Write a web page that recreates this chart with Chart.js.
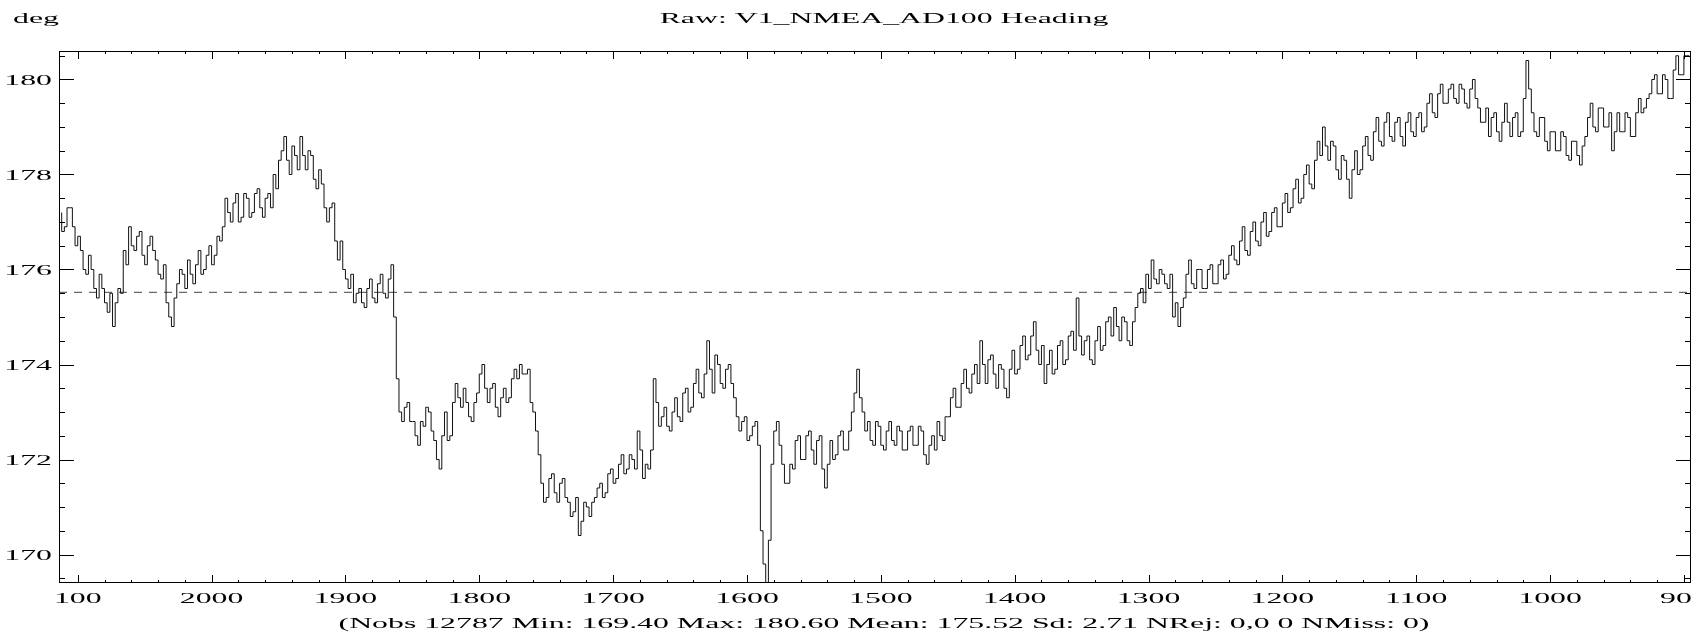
<!DOCTYPE html>
<html>
<head>
<meta charset="utf-8">
<script src="https://cdn.jsdelivr.net/npm/chart.js@4.4.0/dist/chart.umd.min.js"></script>
<style>
  html, body { margin: 0; padding: 0; background: #fff; }
  #wrap { width: 1693px; height: 635px; }
</style>
</head>
<body>
<div id="wrap"><canvas id="headingChart" width="1693" height="635"></canvas></div>
<script>
// Raw heading samples (x runs from 2112 down to 896)
const xValues = [
  2112, 2110, 2108, 2106, 2104, 2102, 2100, 2098, 2096, 2094, 2092, 2090, 2088, 2086, 2084, 2082, 2080, 2078, 2076, 2074,
  2072, 2070, 2068, 2066, 2064, 2062, 2060, 2058, 2056, 2054, 2052, 2050, 2048, 2046, 2044, 2042, 2040, 2038, 2036, 2034,
  2032, 2030, 2028, 2026, 2024, 2022, 2020, 2018, 2016, 2014, 2012, 2010, 2008, 2006, 2004, 2002, 2000, 1998, 1996, 1994,
  1992, 1990, 1988, 1986, 1984, 1982, 1980, 1978, 1976, 1974, 1972, 1970, 1968, 1966, 1964, 1962, 1960, 1958, 1956, 1954,
  1952, 1950, 1948, 1946, 1944, 1942, 1940, 1938, 1936, 1934, 1932, 1930, 1928, 1926, 1924, 1922, 1920, 1918, 1916, 1914,
  1912, 1910, 1908, 1906, 1904, 1902, 1900, 1898, 1896, 1894, 1892, 1890, 1888, 1886, 1884, 1882, 1880, 1878, 1876, 1874,
  1872, 1870, 1868, 1866, 1864, 1862, 1860, 1858, 1856, 1854, 1852, 1850, 1848, 1846, 1844, 1842, 1840, 1838, 1836, 1834,
  1832, 1830, 1828, 1826, 1824, 1822, 1820, 1818, 1816, 1814, 1812, 1810, 1808, 1806, 1804, 1802, 1800, 1798, 1796, 1794,
  1792, 1790, 1788, 1786, 1784, 1782, 1780, 1778, 1776, 1774, 1772, 1770, 1768, 1766, 1764, 1762, 1760, 1758, 1756, 1754,
  1752, 1750, 1748, 1746, 1744, 1742, 1740, 1738, 1736, 1734, 1732, 1730, 1728, 1726, 1724, 1722, 1720, 1718, 1716, 1714,
  1712, 1710, 1708, 1706, 1704, 1702, 1700, 1698, 1696, 1694, 1692, 1690, 1688, 1686, 1684, 1682, 1680, 1678, 1676, 1674,
  1672, 1670, 1668, 1666, 1664, 1662, 1660, 1658, 1656, 1654, 1652, 1650, 1648, 1646, 1644, 1642, 1640, 1638, 1636, 1634,
  1632, 1630, 1628, 1626, 1624, 1622, 1620, 1618, 1616, 1614, 1612, 1610, 1608, 1606, 1604, 1602, 1600, 1598, 1596, 1594,
  1592, 1590, 1588, 1586, 1584, 1582, 1580, 1578, 1576, 1574, 1572, 1570, 1568, 1566, 1564, 1562, 1560, 1558, 1556, 1554,
  1552, 1550, 1548, 1546, 1544, 1542, 1540, 1538, 1536, 1534, 1532, 1530, 1528, 1526, 1524, 1522, 1520, 1518, 1516, 1514,
  1512, 1510, 1508, 1506, 1504, 1502, 1500, 1498, 1496, 1494, 1492, 1490, 1488, 1486, 1484, 1482, 1480, 1478, 1476, 1474,
  1472, 1470, 1468, 1466, 1464, 1462, 1460, 1458, 1456, 1454, 1452, 1450, 1448, 1446, 1444, 1442, 1440, 1438, 1436, 1434,
  1432, 1430, 1428, 1426, 1424, 1422, 1420, 1418, 1416, 1414, 1412, 1410, 1408, 1406, 1404, 1402, 1400, 1398, 1396, 1394,
  1392, 1390, 1388, 1386, 1384, 1382, 1380, 1378, 1376, 1374, 1372, 1370, 1368, 1366, 1364, 1362, 1360, 1358, 1356, 1354,
  1352, 1350, 1348, 1346, 1344, 1342, 1340, 1338, 1336, 1334, 1332, 1330, 1328, 1326, 1324, 1322, 1320, 1318, 1316, 1314,
  1312, 1310, 1308, 1306, 1304, 1302, 1300, 1298, 1296, 1294, 1292, 1290, 1288, 1286, 1284, 1282, 1280, 1278, 1276, 1274,
  1272, 1270, 1268, 1266, 1264, 1262, 1260, 1258, 1256, 1254, 1252, 1250, 1248, 1246, 1244, 1242, 1240, 1238, 1236, 1234,
  1232, 1230, 1228, 1226, 1224, 1222, 1220, 1218, 1216, 1214, 1212, 1210, 1208, 1206, 1204, 1202, 1200, 1198, 1196, 1194,
  1192, 1190, 1188, 1186, 1184, 1182, 1180, 1178, 1176, 1174, 1172, 1170, 1168, 1166, 1164, 1162, 1160, 1158, 1156, 1154,
  1152, 1150, 1148, 1146, 1144, 1142, 1140, 1138, 1136, 1134, 1132, 1130, 1128, 1126, 1124, 1122, 1120, 1118, 1116, 1114,
  1112, 1110, 1108, 1106, 1104, 1102, 1100, 1098, 1096, 1094, 1092, 1090, 1088, 1086, 1084, 1082, 1080, 1078, 1076, 1074,
  1072, 1070, 1068, 1066, 1064, 1062, 1060, 1058, 1056, 1054, 1052, 1050, 1048, 1046, 1044, 1042, 1040, 1038, 1036, 1034,
  1032, 1030, 1028, 1026, 1024, 1022, 1020, 1018, 1016, 1014, 1012, 1010, 1008, 1006, 1004, 1002, 1000, 998, 996, 994,
  992, 990, 988, 986, 984, 982, 980, 978, 976, 974, 972, 970, 968, 966, 964, 962, 960, 958, 956, 954,
  952, 950, 948, 946, 944, 942, 940, 938, 936, 934, 932, 930, 928, 926, 924, 922, 920, 918, 916, 914,
  912, 910, 908, 906, 904, 902, 900, 898, 896
];
const headingValues = [
  177.2, 176.8, 176.9, 177.3, 177.3, 176.9, 176.5, 176.7, 176.4, 176.0, 175.9, 176.3, 176.0, 175.6, 175.4, 175.9, 175.6, 175.3, 175.1, 175.5,
  174.8, 175.3, 175.6, 175.5, 176.4, 176.1, 176.9, 176.5, 176.4, 176.7, 176.8, 176.3, 176.1, 176.5, 176.7, 176.4, 176.2, 175.9, 175.8, 176.1,
  175.3, 175.0, 174.8, 175.4, 175.7, 176.0, 175.9, 175.6, 176.2, 175.9, 175.7, 176.1, 176.4, 175.9, 176.0, 176.3, 176.5, 176.1, 176.3, 176.7,
  176.6, 176.9, 177.5, 177.2, 177.0, 177.4, 177.6, 177.0, 177.1, 177.6, 177.5, 177.1, 177.2, 177.6, 177.7, 177.3, 177.1, 177.5, 177.6, 177.3,
  178.0, 177.7, 178.3, 178.5, 178.8, 178.3, 178.0, 178.6, 178.4, 178.1, 178.8, 178.4, 178.1, 178.5, 178.4, 177.9, 177.7, 178.1, 177.8, 177.3,
  177.0, 177.3, 177.4, 176.6, 176.2, 176.6, 176.0, 175.8, 175.6, 175.9, 175.3, 175.5, 175.6, 175.3, 175.2, 175.6, 175.8, 175.4, 175.3, 175.7,
  175.9, 175.5, 175.4, 175.8, 176.1, 175.0, 173.7, 173.0, 172.8, 173.1, 173.2, 172.8, 172.8, 172.5, 172.3, 172.8, 172.7, 173.1, 173.0, 172.6,
  172.4, 172.0, 171.8, 172.5, 173.0, 172.4, 172.5, 173.2, 173.6, 173.3, 173.1, 173.5, 173.2, 172.9, 172.8, 173.2, 173.4, 173.8, 174.0, 173.5,
  173.2, 173.5, 173.6, 173.1, 172.9, 173.3, 173.5, 173.2, 173.3, 173.7, 173.9, 173.7, 174.0, 173.8, 173.8, 173.9, 173.2, 173.0, 172.6, 172.1,
  171.5, 171.1, 171.2, 171.6, 171.7, 171.3, 171.1, 171.5, 171.6, 171.2, 171.1, 170.8, 170.9, 171.2, 170.4, 170.7, 171.1, 171.0, 170.8, 171.1,
  171.2, 171.4, 171.5, 171.2, 171.3, 171.7, 171.8, 171.5, 171.6, 171.9, 172.1, 171.7, 171.8, 172.1, 172.0, 171.8, 172.6, 172.2, 171.6, 171.9,
  171.8, 172.2, 173.7, 173.2, 172.7, 172.9, 173.1, 172.7, 172.6, 173.0, 173.3, 172.9, 172.8, 173.4, 173.5, 173.0, 173.1, 173.6, 173.9, 173.4,
  173.3, 173.8, 174.5, 173.9, 173.4, 174.2, 174.0, 173.6, 173.5, 173.9, 174.0, 173.6, 173.3, 172.9, 172.6, 172.8, 172.9, 172.4, 172.5, 172.7,
  172.8, 172.3, 170.5, 169.8, 169.4, 170.3, 171.9, 172.6, 172.8, 172.3, 171.9, 171.5, 171.5, 171.9, 171.8, 172.4, 172.5, 172.0, 172.0, 172.5,
  172.6, 172.2, 171.9, 172.4, 172.5, 171.8, 171.4, 171.9, 172.4, 172.0, 172.1, 172.5, 172.6, 172.2, 172.2, 172.6, 173.0, 173.4, 173.9, 173.3,
  173.0, 172.6, 172.8, 172.4, 172.3, 172.8, 172.7, 172.3, 172.2, 172.6, 172.8, 172.4, 172.3, 172.7, 172.6, 172.2, 172.2, 172.6, 172.7, 172.3,
  172.3, 172.7, 172.6, 172.1, 171.9, 172.3, 172.5, 172.2, 172.8, 172.5, 172.4, 172.9, 172.9, 173.3, 173.5, 173.1, 173.1, 173.6, 173.9, 173.5,
  173.4, 173.8, 174.0, 173.6, 174.5, 174.0, 173.6, 174.1, 174.2, 173.8, 173.5, 174.0, 173.9, 173.5, 173.3, 173.9, 174.3, 173.8, 173.9, 174.4,
  174.6, 174.1, 174.2, 174.6, 174.9, 174.3, 174.0, 174.4, 173.6, 174.0, 174.3, 173.8, 173.9, 174.4, 174.5, 174.0, 174.1, 174.6, 174.7, 174.3,
  175.4, 174.6, 174.2, 174.5, 174.6, 174.1, 174.0, 174.5, 174.8, 174.3, 174.4, 174.9, 175.0, 174.6, 175.2, 174.8, 174.5, 175.0, 174.9, 174.5,
  174.4, 174.9, 175.2, 175.5, 175.6, 175.3, 175.9, 175.6, 176.2, 175.8, 175.7, 176.0, 175.9, 175.7, 175.6, 175.9, 175.0, 175.3, 174.8, 175.2,
  175.4, 175.9, 176.2, 175.7, 175.6, 176.0, 176.0, 175.6, 175.6, 176.0, 176.1, 175.7, 175.7, 176.1, 176.2, 175.8, 175.9, 176.3, 176.5, 176.2,
  176.1, 176.6, 176.9, 176.4, 176.3, 176.8, 177.0, 176.6, 176.5, 177.0, 177.2, 176.7, 176.8, 177.2, 177.3, 176.9, 176.9, 177.4, 177.6, 177.2,
  177.3, 177.7, 177.9, 177.4, 177.5, 178.0, 178.2, 177.8, 177.7, 178.3, 178.7, 178.4, 179.0, 178.6, 178.3, 178.7, 178.6, 178.1, 177.9, 178.4,
  178.3, 177.9, 177.5, 178.1, 178.5, 178.0, 178.1, 178.6, 178.8, 178.4, 178.3, 178.9, 179.2, 178.7, 178.6, 179.1, 179.3, 178.8, 178.7, 179.1,
  179.2, 178.8, 178.6, 179.1, 179.3, 178.9, 178.8, 179.2, 179.3, 178.9, 179.0, 179.5, 179.7, 179.3, 179.2, 179.7, 179.9, 179.5, 179.5, 179.8,
  179.9, 179.6, 179.5, 179.9, 179.8, 179.5, 179.4, 179.8, 180.0, 179.6, 179.4, 179.1, 179.1, 179.4, 178.8, 179.2, 179.3, 178.9, 178.7, 179.1,
  179.5, 179.1, 178.8, 179.2, 179.3, 178.8, 178.9, 179.6, 180.4, 179.8, 179.3, 178.9, 178.8, 179.2, 179.2, 178.7, 178.5, 178.9, 178.9, 178.5,
  178.5, 178.9, 178.8, 178.4, 178.3, 178.7, 178.7, 178.4, 178.2, 178.6, 178.8, 179.2, 179.5, 179.0, 178.9, 179.4, 179.4, 179.0, 179.0, 179.3,
  178.5, 178.9, 179.3, 178.9, 178.9, 179.3, 179.2, 178.8, 178.8, 179.3, 179.6, 179.3, 179.4, 179.6, 179.7, 180.0, 180.1, 179.7, 179.7, 180.1,
  180.0, 179.6, 179.6, 180.2, 180.5, 180.1, 180.1, 180.5, 180.5
];
const meanHeading = 175.52;

const xTickValues = [2100, 2000, 1900, 1800, 1700, 1600, 1500, 1400, 1300, 1200, 1100, 1000, 900];
const xTickLabels = ['100', '2000', '1900', '1800', '1700', '1600', '1500', '1400', '1300', '1200', '1100', '1000', '900'];
const yTickValues = [170, 172, 174, 176, 178, 180];
const yTickLabels = ['170', '172', '174', '176', '178', '180'];

const titleText = 'Raw: V1_NMEA_AD100 Heading';
const unitText = 'deg';
const footerText = '(Nobs 12787 Min: 169.40 Max: 180.60 Mean: 175.52 Sd: 2.71 NRej: 0,0 0 NMiss: 0)';

const X_MIN = 894.7, X_MAX = 2114;
const Y_MIN = 169.4, Y_MAX = 180.6;
const FONT = '15px "Liberation Serif", "Times New Roman", serif';
const STRETCH = 2.12;

// draw text stretched wide, like the original plotter font
function wideText(ctx, text, x, y, align) {
    ctx.save();
    ctx.font = FONT;
    ctx.fillStyle = '#000';
    ctx.textBaseline = 'alphabetic';
    ctx.textAlign = align;
    ctx.translate(x, y);
    ctx.scale(STRETCH, 1);
    ctx.fillText(text, 0, 0);
    ctx.restore();
}

// Frame, inward ticks and all labels
const framePlugin = {
    id: 'frame',
    afterDraw(chart) {
        const ctx = chart.ctx;
        const area = chart.chartArea;
        const xs = chart.scales.x;
        const ys = chart.scales.y;

        ctx.save();
        ctx.strokeStyle = '#000';
        ctx.lineWidth = 1;
        ctx.strokeRect(area.left + 0.5, area.top + 0.5, area.right - area.left - 1, area.bottom - area.top - 1);

        ctx.beginPath();
        // x ticks every 20, long every 100
        for (let v = 900; v <= 2100; v += 20) {
            const px = Math.round(xs.getPixelForValue(v)) + 0.5;
            const len = (v % 100 === 0) ? 8 : 3;
            ctx.moveTo(px, area.bottom); ctx.lineTo(px, area.bottom - len);
            ctx.moveTo(px, area.top); ctx.lineTo(px, area.top + len);
        }
        // y ticks every 0.5, long on labelled values
        for (let v = 169.5; v <= 180.5; v += 0.5) {
            const py = Math.round(ys.getPixelForValue(v)) + 0.5;
            const len = (v % 2 === 0) ? 15 : 6;
            ctx.moveTo(area.left, py); ctx.lineTo(area.left + len, py);
            ctx.moveTo(area.right, py); ctx.lineTo(area.right - len, py);
        }
        ctx.stroke();
        ctx.restore();

        yTickValues.forEach((v, i) => {
            wideText(ctx, yTickLabels[i], area.left - 7, ys.getPixelForValue(v) + 5, 'right');
        });
        xTickValues.forEach((v, i) => {
            wideText(ctx, xTickLabels[i], xs.getPixelForValue(v), 603, 'center');
        });

        wideText(ctx, unitText, 13, 23, 'left');
        wideText(ctx, titleText, 884, 23, 'center');
        wideText(ctx, footerText, 884, 628, 'center');
    }
};

function initChart() {
    const ctx = document.getElementById('headingChart');
    const points = xValues.map((x, i) => ({ x: x, y: headingValues[i] }));

    new Chart(ctx, {
        type: 'line',
        data: {
            datasets: [{
                label: 'Heading',
                data: points,
                borderColor: '#111',
                borderWidth: 1,
                stepped: 'after',
                pointRadius: 0,
                fill: false
            },
            {
                label: 'Mean',
                data: [{ x: X_MAX, y: meanHeading }, { x: X_MIN, y: meanHeading }],
                borderColor: '#444',
                borderWidth: 1,
                borderDash: [8, 7],
                pointRadius: 0,
                fill: false
            }]
        },
        options: {
            responsive: false,
            animation: false,
            devicePixelRatio: 1,
            layout: {
                padding: { left: 59, right: 2, top: 51, bottom: 52 }
            },
            plugins: {
                legend: { display: false },
                tooltip: { enabled: false }
            },
            scales: {
                x: {
                    type: 'linear',
                    display: false,
                    reverse: true,
                    min: X_MIN,
                    max: X_MAX
                },
                y: {
                    type: 'linear',
                    display: false,
                    min: Y_MIN,
                    max: Y_MAX
                }
            }
        },
        plugins: [framePlugin]
    });
}

window.addEventListener('load', () => {
    initChart();
});
</script>
</body>
</html>
